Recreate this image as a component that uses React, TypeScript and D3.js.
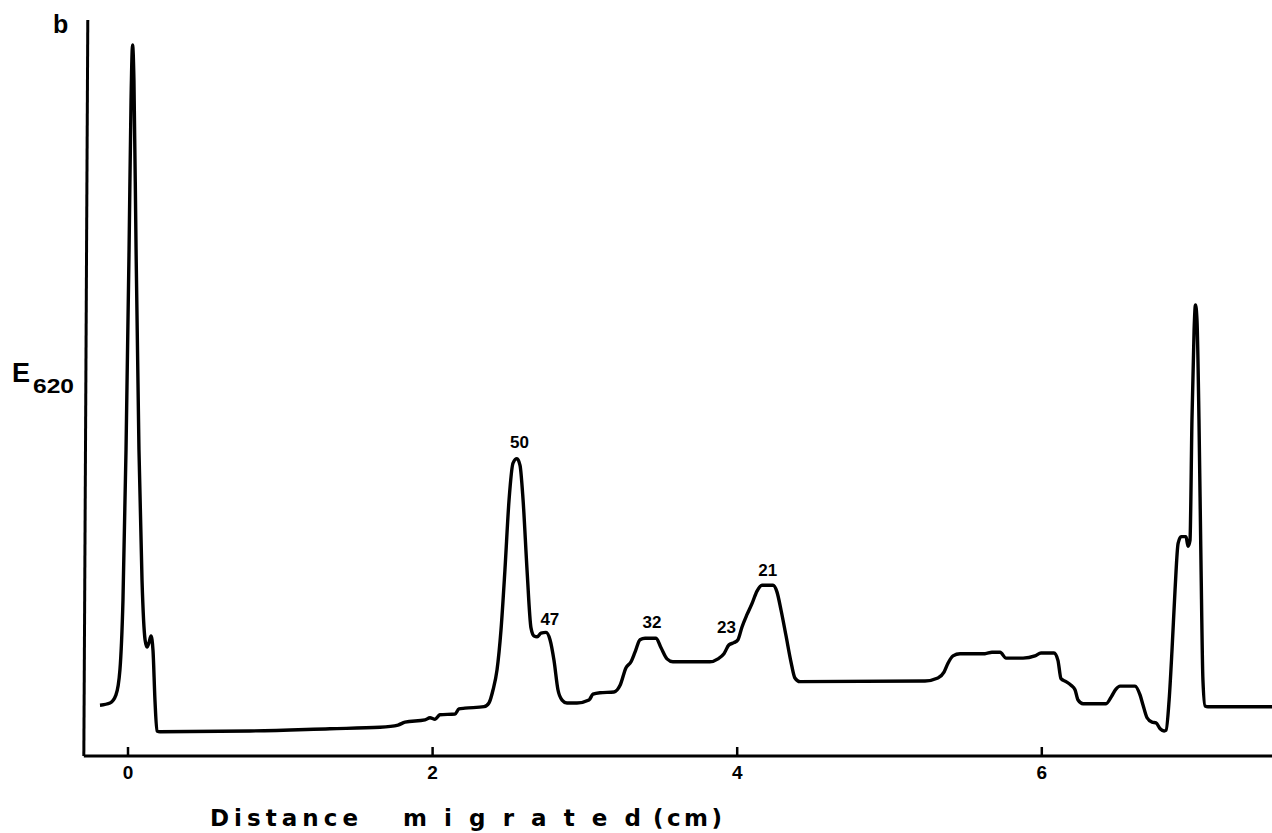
import React from "react";
import * as d3 from "d3";

// Distance migrated (cm)
const distance: number[] = [
  -0.184, -0.118, -0.079, -0.053, -0.033, -0.013, 0.007, 0.02, 0.03, 0.039, 0.053, 0.072, 0.092, 0.112, 0.125,
  0.138, 0.151, 0.164, 0.177, 0.19, 0.21, 0.801, 1.326, 1.655, 1.773, 1.819, 1.95, 1.983, 2.016, 2.048, 2.147,
  2.173, 2.213, 2.338, 2.37, 2.397, 2.423, 2.449, 2.475, 2.502, 2.528, 2.554, 2.574, 2.594, 2.62, 2.646, 2.666,
  2.686, 2.712, 2.745, 2.771, 2.797, 2.823, 2.85, 2.882, 2.948, 3.027, 3.053, 3.099, 3.191, 3.231, 3.27, 3.303,
  3.329, 3.362, 3.395, 3.467, 3.5, 3.539, 3.578, 3.821, 3.874, 3.913, 3.946, 3.979, 4.005, 4.031, 4.064, 4.097,
  4.13, 4.163, 4.235, 4.261, 4.288, 4.32, 4.353, 4.379, 4.412, 5.233, 5.318, 5.358, 5.384, 5.417, 5.463, 5.627,
  5.673, 5.726, 5.765, 5.877, 5.955, 5.995, 6.08, 6.106, 6.126, 6.159, 6.192, 6.218, 6.238, 6.271, 6.422, 6.455,
  6.487, 6.514, 6.612, 6.645, 6.665, 6.691, 6.724, 6.75, 6.777, 6.803, 6.816, 6.836, 6.855, 6.875, 6.895, 6.915,
  6.947, 6.96, 6.973, 6.986, 7.0, 7.009, 7.019, 7.032, 7.045, 7.058, 7.072, 7.091, 7.512,
];

// Extinction at 620 nm (arbitrary units)
const e620: number[] = [
  6.9, 7.2, 8.3, 11.7, 21.2, 41.6, 68.8, 89.1, 96.6, 91.8, 68.8, 41.6, 23.9, 15.8, 14.8,
  15.4, 16.3, 14.4, 7.6, 3.4, 3.3, 3.4, 3.7, 3.9, 4.2, 4.6, 4.9, 5.2, 5.0, 5.6, 5.7,
  6.4, 6.5, 6.7, 7.2, 9.0, 11.7, 17.1, 25.3, 34.8, 39.8, 40.4, 39.5, 34.8, 25.3, 17.4, 16.3,
  16.2, 16.7, 16.8, 15.8, 13.0, 9.0, 7.6, 7.2, 7.2, 7.6, 8.4, 8.6, 8.7, 9.6, 12.0, 12.8,
  14.1, 15.8, 16.0, 16.0, 14.7, 13.2, 12.8, 12.8, 13.2, 13.9, 15.1, 15.4, 15.8, 17.5, 19.2, 20.7,
  22.4, 23.2, 23.2, 22.3, 19.8, 16.4, 12.8, 10.6, 10.1, 10.2, 10.6, 11.4, 12.6, 13.6, 13.9, 13.9,
  14.1, 14.1, 13.3, 13.3, 13.6, 14.0, 14.0, 13.0, 10.5, 10.1, 9.6, 9.0, 7.6, 7.1, 7.1, 8.0,
  9.1, 9.5, 9.5, 8.3, 6.9, 5.2, 4.6, 4.5, 3.7, 3.4, 3.5, 7.6, 14.4, 22.6, 28.9, 29.8,
  29.8, 28.5, 29.3, 45.7, 57.9, 61.3, 59.2, 45.7, 26.6, 10.3, 6.8, 6.7, 6.7,
];

// Peak labels (molecular weight, kDa)
const peakLabels: string[] = ["50", "47", "32", "23", "21"];
const peakX: number[] = [2.57, 2.77, 3.44, 3.93, 4.2];
const peakY: number[] = [41.8, 17.8, 17.4, 16.7, 24.4];

const tickValues: number[] = [0, 2, 4, 6];

const titleWords: string[] = ["Distance", "migrated", "(cm)"];

export default function App() {
  const W = 1272;
  const H = 833;
  const x = d3.scaleLinear().domain([0, 6]).range([128, 128 + 6 * 152.3]);
  const y = d3.scaleLinear().domain([0, 100]).range([756, 20]);
  const pts = distance.map((d, i) => [d, e620[i]] as [number, number]);
  const line = d3
    .line<[number, number]>()
    .x((d) => x(d[0]))
    .y((d) => y(d[1]))
    .curve(d3.curveMonotoneX);

  const font = "'Liberation Sans', Arial, sans-serif";
  const titleFont = "'DejaVu Sans', 'Liberation Sans', sans-serif";
  const axisY = y(0);
  const xLeft = x(-0.29);
  const wordX = [210, 403, 653];
  const wordW = [148, 238, 69];

  return (
    <svg
      width={W}
      height={H}
      viewBox={`0 0 ${W} ${H}`}
      style={{ position: "absolute", left: 0, top: 0, background: "#fff" }}
    >
      <rect x={0} y={0} width={W} height={H} fill="#fff" />
      {/* y axis */}
      <line x1={x(-0.264)} y1={y(100)} x2={x(-0.29)} y2={axisY} stroke="#000" strokeWidth={3} />
      {/* x axis */}
      <line x1={xLeft} y1={axisY} x2={W} y2={axisY} stroke="#000" strokeWidth={3} />
      {tickValues.map((t) => (
        <g key={t}>
          <line x1={x(t)} y1={axisY} x2={x(t)} y2={axisY - 9} stroke="#000" strokeWidth={2.5} />
          <text
            x={x(t)}
            y={axisY + 23}
            textAnchor="middle"
            fontFamily={font}
            fontWeight="bold"
            fontSize={19}
            fill="#000"
          >
            {t}
          </text>
        </g>
      ))}
      {titleWords.map((w, i) => (
        <text
          key={w}
          x={wordX[i]}
          y={826}
          fontFamily={titleFont}
          fontWeight="bold"
          fontSize={23}
          textLength={wordW[i]}
          lengthAdjust="spacing"
          fill="#000"
        >
          {w}
        </text>
      ))}
      <text x={53} y={33} fontFamily={font} fontWeight="bold" fontSize={25} fill="#000">
        b
      </text>
      <text x={12} y={382} fontFamily={font} fontWeight="bold" fontSize={27} fill="#000">
        E
      </text>
      <text
        x={33}
        y={393}
        fontFamily={font}
        fontWeight="bold"
        fontSize={21}
        textLength={41}
        lengthAdjust="spacingAndGlyphs"
        fill="#000"
      >
        620
      </text>
      <path d={line(pts) || ""} fill="none" stroke="#000" strokeWidth={3.4} strokeLinejoin="round" />
      {peakLabels.map((l, i) => (
        <text
          key={l}
          x={x(peakX[i])}
          y={y(peakY[i])}
          textAnchor="middle"
          fontFamily={font}
          fontWeight="bold"
          fontSize={17}
          fill="#000"
        >
          {l}
        </text>
      ))}
    </svg>
  );
}
